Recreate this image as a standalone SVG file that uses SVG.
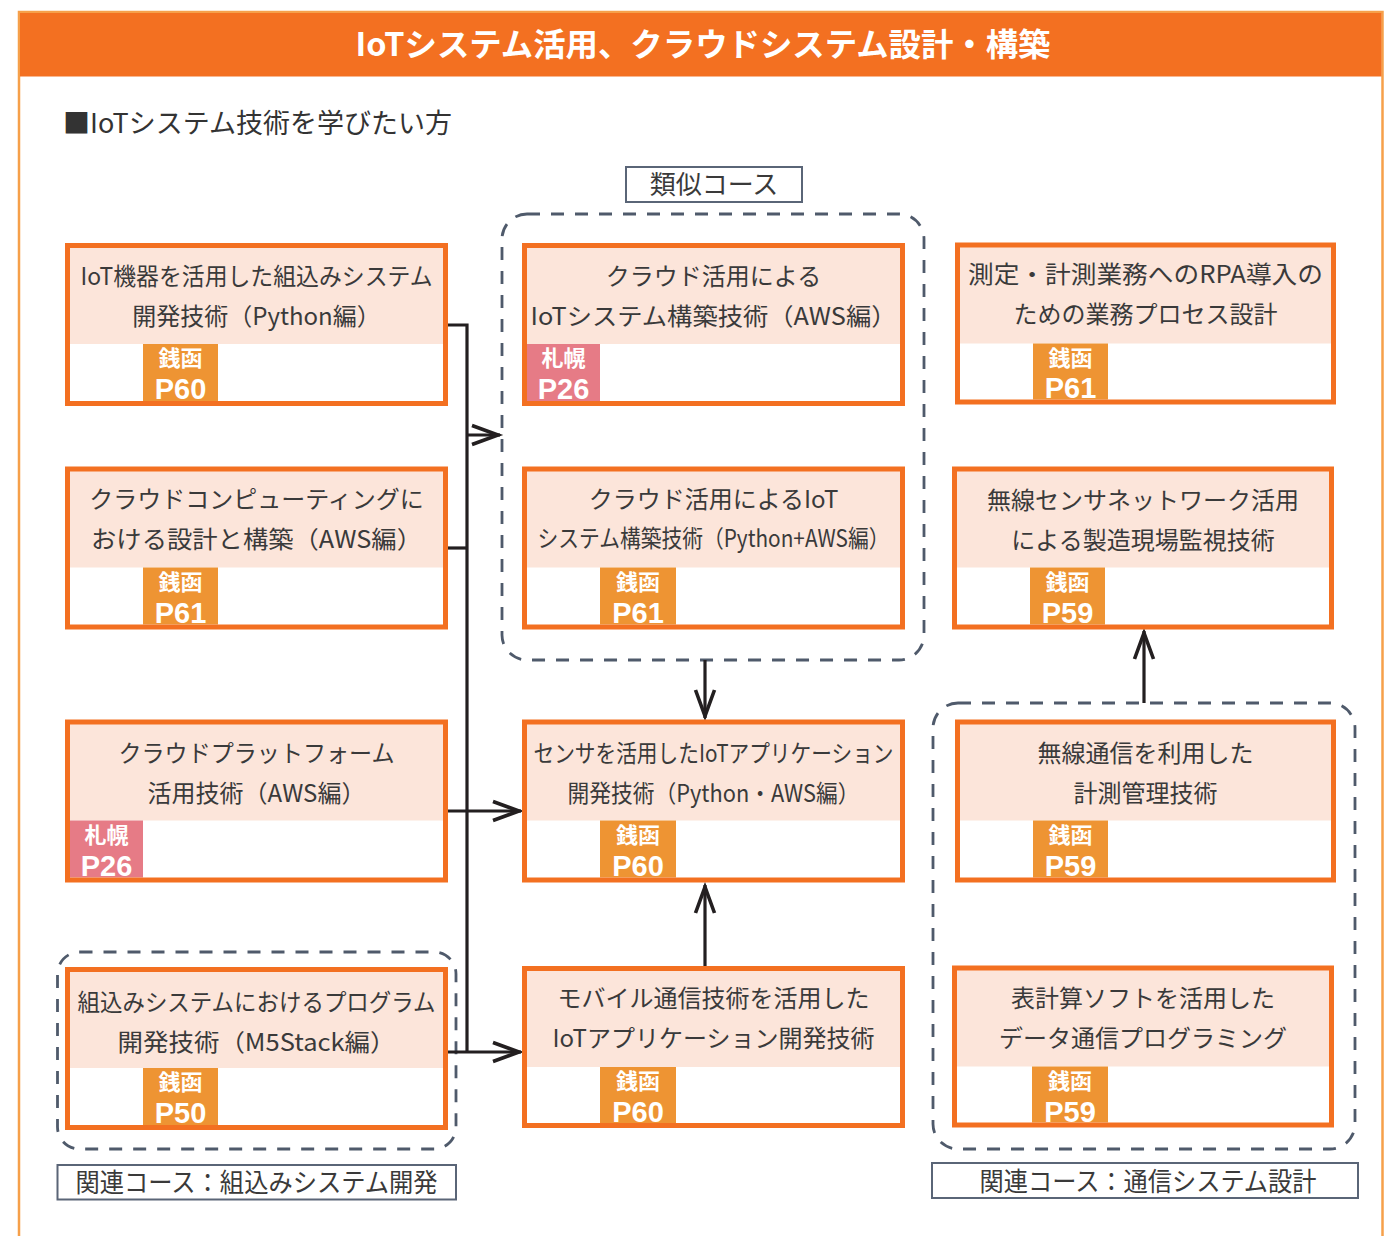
<svg xmlns="http://www.w3.org/2000/svg" width="1397" height="1236" viewBox="0 0 1397 1236">
<style>
text{font-family:'Noto Sans CJK JP','Noto Sans',sans-serif}
.bg{fill:#fff}
.pk{fill:#FCE5DA}
.ol{fill:none;stroke:#F37021;stroke-width:5}
.tg{fill:#EE9433}
.tp{fill:#E67B86}
.t{font-size:24px;fill:#3A3A3A;text-anchor:middle}
.k{font-size:22px;font-weight:bold;fill:#fff;text-anchor:middle}
.p{font-family:'Liberation Sans',Arial,sans-serif;font-size:29px;font-weight:bold;fill:#fff;text-anchor:middle}
.dash{fill:none;stroke:#4F5A6B;stroke-width:2.8;stroke-dasharray:13 11}
.lb{fill:#fff;stroke:#5A6577;stroke-width:2}
.lt{font-size:26px;fill:#3A3A3A;text-anchor:middle}
.cn{fill:none;stroke:#231F20;stroke-width:3.2}
</style>
<defs>
<marker id="arr" markerUnits="userSpaceOnUse" viewBox="-32 -12 34 24" markerWidth="34" markerHeight="24" refX="0" refY="0" orient="auto" overflow="visible">
<path d="M-28,-9.5 L-2,0 L-28,9.5" fill="none" stroke="#231F20" stroke-width="3.6"/>
</marker>
</defs>
<rect width="1397" height="1236" fill="#fff"/>
<g id="frame">
<rect x="19" y="12" width="1363.5" height="1240" fill="none" stroke="#F6A04A" stroke-width="2.5"/>
<rect x="20" y="13" width="1361.5" height="63.5" fill="#F37021"/>
<text x="703" y="56" font-size="32" font-weight="bold" fill="#fff" text-anchor="middle" textLength="695" lengthAdjust="spacingAndGlyphs">IoTシステム活用、クラウドシステム設計・構築</text>
<text x="63" y="133" font-size="27" fill="#333">■IoTシステム技術を学びたい方</text>
</g>
<g id="groups">
<rect class="dash" x="502" y="214" width="422" height="446" rx="25"/>
<rect class="lb" x="626" y="167" width="176" height="35"/>
<text class="lt" x="714" y="194">類似コース</text>
<rect class="dash" x="57.5" y="952" width="398.5" height="197" rx="22"/>
<rect class="lb" x="57.5" y="1165" width="398.5" height="34.5"/>
<text class="lt" x="256.5" y="1192" textLength="362" lengthAdjust="spacingAndGlyphs">関連コース：組込みシステム開発</text>
<rect class="dash" x="933" y="703" width="422" height="446" rx="25"/>
<rect class="lb" x="932" y="1163" width="426" height="35"/>
<text class="lt" x="1148" y="1191" textLength="337" lengthAdjust="spacingAndGlyphs">関連コース：通信システム設計</text>
</g>
<g id="connectors">
<path class="cn" d="M447,325 H467 V1052"/>
<path class="cn" d="M447,548 H467"/>
<path class="cn" d="M467,435 H500" marker-end="url(#arr)"/>
<path class="cn" d="M447,811 H521" marker-end="url(#arr)"/>
<path class="cn" d="M447,1052 H521" marker-end="url(#arr)"/>
<path class="cn" d="M705,660 V718" marker-end="url(#arr)"/>
<path class="cn" d="M705,966 V885" marker-end="url(#arr)"/>
<path class="cn" d="M1144,703 V631" marker-end="url(#arr)"/>
</g>
<g id="n-left1">
<rect class="bg" x="67.5" y="245.5" width="378" height="158"/>
<rect class="pk" x="67.5" y="245.5" width="378" height="98.5"/>
<rect class="tg" x="143" y="344" width="75" height="57"/>
<rect class="ol" x="67.5" y="245.5" width="378" height="158"/>
<text class="t" x="256.5" y="285" textLength="352" lengthAdjust="spacingAndGlyphs">IoT機器を活用した組込みシステム</text>
<text class="t" x="256.5" y="325">開発技術（Python編）</text>
<text class="k" x="180.5" y="366">銭函</text>
<text class="p" x="180.5" y="399">P60</text>
</g>
<g id="n-left2">
<rect class="bg" x="67.5" y="469" width="378" height="158"/>
<rect class="pk" x="67.5" y="469" width="378" height="98.5"/>
<rect class="tg" x="143" y="567.5" width="75" height="57"/>
<rect class="ol" x="67.5" y="469" width="378" height="158"/>
<text class="t" x="256.5" y="508">クラウドコンピューティングに</text>
<text class="t" x="256.5" y="548" textLength="331" lengthAdjust="spacingAndGlyphs">おける設計と構築（AWS編）</text>
<text class="k" x="180.5" y="589.5">銭函</text>
<text class="p" x="180.5" y="622.5">P61</text>
</g>
<g id="n-left3">
<rect class="bg" x="67.5" y="722" width="378" height="158"/>
<rect class="pk" x="67.5" y="722" width="378" height="98.5"/>
<rect class="tp" x="70" y="820.5" width="73" height="57"/>
<rect class="ol" x="67.5" y="722" width="378" height="158"/>
<text class="t" x="256.5" y="762" textLength="276" lengthAdjust="spacingAndGlyphs">クラウドプラットフォーム</text>
<text class="t" x="256.5" y="802">活用技術（AWS編）</text>
<text class="k" x="106.5" y="842.5">札幌</text>
<text class="p" x="106.5" y="875.5">P26</text>
</g>
<g id="n-left4">
<rect class="bg" x="67.5" y="969.5" width="378" height="158"/>
<rect class="pk" x="67.5" y="969.5" width="378" height="98.5"/>
<rect class="tg" x="143" y="1068" width="75" height="57"/>
<rect class="ol" x="67.5" y="969.5" width="378" height="158"/>
<text class="t" x="256.5" y="1011" textLength="358" lengthAdjust="spacingAndGlyphs">組込みシステムにおけるプログラム</text>
<text class="t" x="256.5" y="1051" textLength="278" lengthAdjust="spacingAndGlyphs">開発技術（M5Stack編）</text>
<text class="k" x="180.5" y="1090">銭函</text>
<text class="p" x="180.5" y="1123">P50</text>
</g>
<g id="n-mid1">
<rect class="bg" x="524.5" y="245.5" width="378" height="158"/>
<rect class="pk" x="524.5" y="245.5" width="378" height="98.5"/>
<rect class="tp" x="527" y="344" width="73" height="57"/>
<rect class="ol" x="524.5" y="245.5" width="378" height="158"/>
<text class="t" x="713.5" y="285">クラウド活用による</text>
<text class="t" x="713.5" y="325" textLength="366" lengthAdjust="spacingAndGlyphs">IoTシステム構築技術（AWS編）</text>
<text class="k" x="563.5" y="366">札幌</text>
<text class="p" x="563.5" y="399">P26</text>
</g>
<g id="n-mid2">
<rect class="bg" x="524.5" y="469" width="378" height="158"/>
<rect class="pk" x="524.5" y="469" width="378" height="98.5"/>
<rect class="tg" x="600" y="567.5" width="76" height="57"/>
<rect class="ol" x="524.5" y="469" width="378" height="158"/>
<text class="t" x="713.5" y="508">クラウド活用によるIoT</text>
<text class="t" x="713.5" y="547" textLength="352" lengthAdjust="spacingAndGlyphs">システム構築技術（Python+AWS編）</text>
<text class="k" x="638" y="589.5">銭函</text>
<text class="p" x="638" y="622.5">P61</text>
</g>
<g id="n-mid3">
<rect class="bg" x="524.5" y="722" width="378" height="158"/>
<rect class="pk" x="524.5" y="722" width="378" height="98.5"/>
<rect class="tg" x="600" y="820.5" width="76" height="57"/>
<rect class="ol" x="524.5" y="722" width="378" height="158"/>
<text class="t" x="713.5" y="762" textLength="360" lengthAdjust="spacingAndGlyphs">センサを活用したIoTアプリケーション</text>
<text class="t" x="713.5" y="802" textLength="292" lengthAdjust="spacingAndGlyphs">開発技術（Python・AWS編）</text>
<text class="k" x="638" y="842.5">銭函</text>
<text class="p" x="638" y="875.5">P60</text>
</g>
<g id="n-mid4">
<rect class="bg" x="524.5" y="968.5" width="378" height="157"/>
<rect class="pk" x="524.5" y="968.5" width="378" height="98.5"/>
<rect class="tg" x="600" y="1067" width="76" height="56"/>
<rect class="ol" x="524.5" y="968.5" width="378" height="157"/>
<text class="t" x="713.5" y="1007">モバイル通信技術を活用した</text>
<text class="t" x="713.5" y="1047">IoTアプリケーション開発技術</text>
<text class="k" x="638" y="1089">銭函</text>
<text class="p" x="638" y="1122">P60</text>
</g>
<g id="n-right1">
<rect class="bg" x="957.5" y="245" width="376" height="157"/>
<rect class="pk" x="957.5" y="245" width="376" height="98.5"/>
<rect class="tg" x="1033" y="343.5" width="75" height="56"/>
<rect class="ol" x="957.5" y="245" width="376" height="157"/>
<text class="t" x="1145.5" y="283" textLength="355" lengthAdjust="spacingAndGlyphs">測定・計測業務へのRPA導入の</text>
<text class="t" x="1145.5" y="323">ための業務プロセス設計</text>
<text class="k" x="1070.5" y="365.5">銭函</text>
<text class="p" x="1070.5" y="398">P61</text>
</g>
<g id="n-right2">
<rect class="bg" x="954.5" y="469" width="377" height="158"/>
<rect class="pk" x="954.5" y="469" width="377" height="98.5"/>
<rect class="tg" x="1030" y="567.5" width="75" height="57"/>
<rect class="ol" x="954.5" y="469" width="377" height="158"/>
<text class="t" x="1143" y="509">無線センサネットワーク活用</text>
<text class="t" x="1143" y="549">による製造現場監視技術</text>
<text class="k" x="1067.5" y="589.5">銭函</text>
<text class="p" x="1067.5" y="622.5">P59</text>
</g>
<g id="n-right3">
<rect class="bg" x="957.5" y="722" width="376" height="158"/>
<rect class="pk" x="957.5" y="722" width="376" height="98.5"/>
<rect class="tg" x="1033" y="820.5" width="75" height="57"/>
<rect class="ol" x="957.5" y="722" width="376" height="158"/>
<text class="t" x="1145.5" y="762">無線通信を利用した</text>
<text class="t" x="1145.5" y="802">計測管理技術</text>
<text class="k" x="1070.5" y="842.5">銭函</text>
<text class="p" x="1070.5" y="875.5">P59</text>
</g>
<g id="n-right4">
<rect class="bg" x="954.5" y="968" width="377" height="157"/>
<rect class="pk" x="954.5" y="968" width="377" height="98.5"/>
<rect class="tg" x="1032" y="1066.5" width="76" height="56"/>
<rect class="ol" x="954.5" y="968" width="377" height="157"/>
<text class="t" x="1143" y="1007">表計算ソフトを活用した</text>
<text class="t" x="1143" y="1047">データ通信プログラミング</text>
<text class="k" x="1070" y="1088.5">銭函</text>
<text class="p" x="1070" y="1121.5">P59</text>
</g>
</svg>
